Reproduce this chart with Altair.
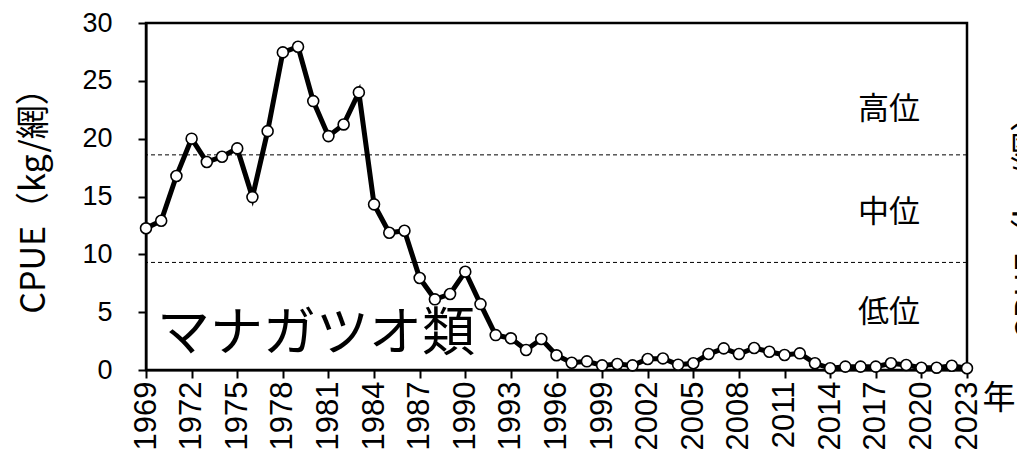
import altair as alt
import pandas as pd

years = list(range(1969, 2024))
cpue = [12.25, 12.9, 16.77, 20.0, 17.98, 18.44, 19.16, 14.95, 20.65, 27.46,
        27.95, 23.25, 20.22, 21.23, 24.0, 14.32, 11.87, 12.04, 7.95, 6.11,
        6.57, 8.5, 5.7, 3.02, 2.74, 1.73, 2.68, 1.27, 0.63, 0.75,
        0.4, 0.52, 0.4, 0.95, 1.0, 0.46, 0.58, 1.38, 1.87, 1.38,
        1.9, 1.58, 1.3, 1.44, 0.58, 0.15, 0.29, 0.29, 0.29, 0.58,
        0.43, 0.2, 0.2, 0.37, 0.15]
thresholds = [18.6, 9.3]
tick_years = list(range(1969, 2024, 3))
level_labels = ["高位", "中位", "低位"]

df = pd.DataFrame({"year": years, "cpue": cpue})
thr = pd.DataFrame({"v": thresholds})

W, H = 821, 347
x = alt.X("year:Q", scale=alt.Scale(domain=[1969, 2023], nice=False, zero=False),
          axis=alt.Axis(values=tick_years, format="d", labelAngle=270, labelFontSize=31,
                        labelFont="Liberation Sans", labelColor="black", labelPadding=3,
                        tickSize=8, tickWidth=2, tickColor="black", domainColor="black",
                        domainWidth=2, grid=False, title=None, labelOverlap=False))
y = alt.Y("cpue:Q", scale=alt.Scale(domain=[0, 30], nice=False),
          axis=alt.Axis(values=[0, 5, 10, 15, 20, 25, 30], labelFontSize=27,
                        labelFont="Liberation Sans", labelColor="black", labelPadding=26,
                        tickSize=8, tickWidth=2, tickColor="black", domainColor="black",
                        domainWidth=2, grid=False, title="CPUE（kg/網）",
                        titleFont="Noto Sans CJK JP", titleFontSize=34, titleFontWeight="normal",
                        titleColor="black", titleAngle=270, titleAlign="center",
                        titleBaseline="middle", titleX=-112, titleY=169))

rules = alt.Chart(thr).mark_rule(color="black", strokeWidth=1, strokeDash=[4, 3]).encode(
    y=alt.Y("v:Q", scale=alt.Scale(domain=[0, 30], nice=False)))
line = alt.Chart(df).mark_line(color="black", strokeWidth=5).encode(x=x, y=y)
pts = alt.Chart(df).mark_point(shape="circle", filled=True, fill="white", stroke="black",
                               strokeWidth=1.6, size=120, opacity=1).encode(x=x, y=y)

def label(text, px, py, size, **kw):
    return alt.Chart(pd.DataFrame({"t": [text]})).mark_text(
        font="Noto Sans CJK JP", fontSize=size, color="black", **kw).encode(
        text="t:N", x=alt.value(px), y=alt.value(py))

texts = [
    label(level_labels[0], 743, 87, 31),
    label(level_labels[1], 743, 190, 31),
    label(level_labels[2], 743, 290, 31),
    label("マナガツオ類", 170, 312, 53),
    label("年", 853, 376, 33),
    label("CPUE（kg/網）", 867, 196, 34, angle=270, baseline="top"),
]

chart = alt.layer(rules, line, pts, *texts).properties(
    width=W, height=H,
    padding={"left": 138, "top": 15, "right": 50, "bottom": 79},
    autosize=alt.AutoSizeParams(type="none"),
).configure_view(stroke="black", strokeWidth=2.5).configure_text(baseline="middle", align="center")

chart.save("out.html", embed_options={"renderer": "svg", "actions": False})
